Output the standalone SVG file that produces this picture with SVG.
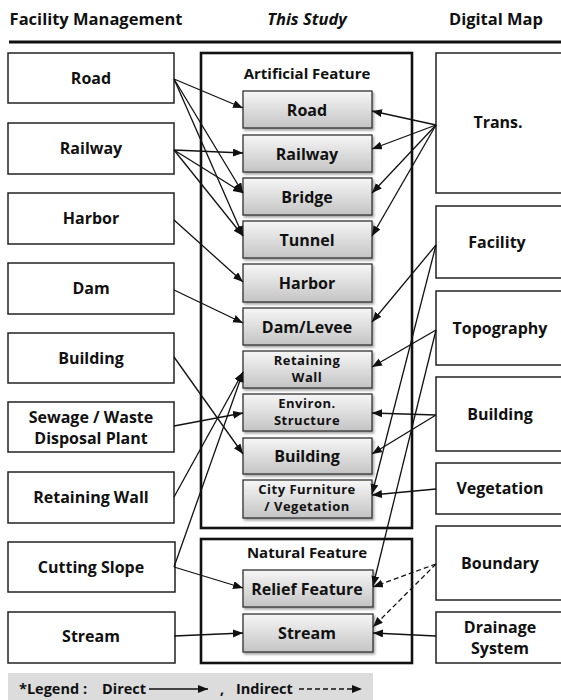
<svg xmlns="http://www.w3.org/2000/svg" width="561" height="700" viewBox="0 0 561 700">
<style>
text{font-family:"Open Sans","Noto Sans","DejaVu Sans",sans-serif;font-weight:bold;fill:#111;text-anchor:middle}
.hd{font-size:16.5px}
.gt{font-size:15px}
.lb{font-size:16px}
.ib{font-size:16px}
.ib2{font-size:13px;letter-spacing:0.5px}
.lg{font-size:14.5px;text-anchor:start}
.box{fill:#fff;stroke:#222;stroke-width:1.5}
.grp{fill:none;stroke:#111;stroke-width:2.6}
.inner{fill:url(#g);stroke:#333;stroke-width:1.3;filter:url(#sh)}
.c{fill:none;stroke:#111;stroke-width:1.3;marker-end:url(#ah)}
.d{stroke-dasharray:5,3}
</style>
<defs>
<linearGradient id="g" x1="0" y1="0" x2="0" y2="1">
<stop offset="0" stop-color="#f6f6f6"/>
<stop offset="1" stop-color="#c4c4c4"/>
</linearGradient>
<filter id="sh" x="-10%" y="-10%" width="125%" height="140%">
<feDropShadow dx="1.5" dy="2" stdDeviation="1" flood-color="#000" flood-opacity="0.35"/>
</filter>
<marker id="ah" markerUnits="userSpaceOnUse" markerWidth="11" markerHeight="9" refX="10" refY="4" orient="auto">
<path d="M0,0 L10,4 L0,8 z" fill="#111"/>
</marker>
</defs>
<g id="header">
<text class="hd" x="96" y="25">Facility Management</text>
<text class="hd" x="307" y="25" font-style="italic">This Study</text>
<text class="hd" x="496" y="25">Digital Map</text>
<line x1="9" y1="42" x2="561" y2="42" stroke="#111" stroke-width="3"/>
</g>
<g id="left">
<g id="fm-road"><rect class="box" x="8" y="53" width="166" height="50"/><text class="lb" x="91" y="84">Road</text></g>
<g id="fm-railway"><rect class="box" x="8" y="123" width="166" height="51"/><text class="lb" x="91" y="154">Railway</text></g>
<g id="fm-harbor"><rect class="box" x="8" y="193" width="166" height="51"/><text class="lb" x="91" y="224">Harbor</text></g>
<g id="fm-dam"><rect class="box" x="8" y="263" width="166" height="51"/><text class="lb" x="91" y="294">Dam</text></g>
<g id="fm-building"><rect class="box" x="8" y="333" width="166" height="50"/><text class="lb" x="91" y="364">Building</text></g>
<g id="fm-sewage"><rect class="box" x="8" y="402" width="166" height="50"/><text class="lb" x="91" y="423">Sewage / Waste</text><text class="lb" x="91" y="444">Disposal Plant</text></g>
<g id="fm-retaining"><rect class="box" x="8" y="472" width="166" height="51"/><text class="lb" x="91" y="503">Retaining Wall</text></g>
<g id="fm-cutting"><rect class="box" x="8" y="542" width="167" height="50"/><text class="lb" x="91" y="573">Cutting Slope</text></g>
<g id="fm-stream"><rect class="box" x="8" y="612" width="167" height="51"/><text class="lb" x="91" y="642">Stream</text></g>
</g>
<g id="artificial">
<rect class="grp" x="201" y="53" width="211" height="475"/>
<text class="gt" x="307" y="79">Artificial Feature</text>
</g>
<g id="natural">
<rect class="grp" x="201" y="539" width="211" height="124"/>
<text class="gt" x="307" y="558">Natural Feature</text>
</g>
<g id="st-road"><rect class="inner" x="243" y="91" width="129" height="37"/><text class="ib" x="307" y="116">Road</text></g>
<g id="st-railway"><rect class="inner" x="243" y="135" width="129" height="37"/><text class="ib" x="307" y="160">Railway</text></g>
<g id="st-bridge"><rect class="inner" x="243" y="178" width="129" height="37"/><text class="ib" x="307" y="203">Bridge</text></g>
<g id="st-tunnel"><rect class="inner" x="243" y="221" width="129" height="37"/><text class="ib" x="307" y="246">Tunnel</text></g>
<g id="st-harbor"><rect class="inner" x="243" y="264" width="129" height="38"/><text class="ib" x="307" y="289">Harbor</text></g>
<g id="st-dam"><rect class="inner" x="243" y="308" width="129" height="37"/><text class="ib" x="307" y="333">Dam/Levee</text></g>
<g id="st-retaining"><rect class="inner" x="243" y="351" width="129" height="37"/><text class="ib2" x="307" y="365">Retaining</text><text class="ib2" x="307" y="382">Wall</text></g>
<g id="st-environ"><rect class="inner" x="243" y="394" width="129" height="37"/><text class="ib2" x="307" y="408">Environ.</text><text class="ib2" x="307" y="425">Structure</text></g>
<g id="st-building"><rect class="inner" x="243" y="438" width="129" height="36"/><text class="ib" x="307" y="462">Building</text></g>
<g id="st-city"><rect class="inner" x="243" y="480" width="129" height="38"/><text class="ib2" x="307" y="494">City Furniture</text><text class="ib2" x="307" y="511">/ Vegetation</text></g>
<g id="st-relief"><rect class="inner" x="243" y="570" width="130" height="37"/><text class="ib" x="307" y="595">Relief Feature</text></g>
<g id="st-stream"><rect class="inner" x="243" y="614" width="130" height="38"/><text class="ib" x="307" y="639">Stream</text></g>
<g id="right">
<g id="dm-trans"><rect class="box" x="436" y="53" width="127" height="140"/><text class="lb" x="498" y="128">Trans.</text></g>
<g id="dm-facility"><rect class="box" x="436" y="206" width="127" height="72"/><text class="lb" x="497" y="248">Facility</text></g>
<g id="dm-topo"><rect class="box" x="436" y="291" width="127" height="74"/><text class="lb" x="500" y="334">Topography</text></g>
<g id="dm-building"><rect class="box" x="436" y="377" width="127" height="74"/><text class="lb" x="500" y="420">Building</text></g>
<g id="dm-veg"><rect class="box" x="436" y="463" width="127" height="51"/><text class="lb" x="500" y="494">Vegetation</text></g>
<g id="dm-boundary"><rect class="box" x="436" y="526" width="127" height="74"/><text class="lb" x="500" y="569">Boundary</text></g>
<g id="dm-drainage"><rect class="box" x="436" y="612" width="127" height="51"/><text class="lb" x="500" y="633">Drainage</text><text class="lb" x="500" y="654">System</text></g>
</g>
<g id="connectors">
<line class="c" x1="174" y1="79" x2="243" y2="108"/>
<line class="c" x1="174" y1="79" x2="243" y2="193"/>
<line class="c" x1="174" y1="79" x2="243" y2="236"/>
<line class="c" x1="174" y1="150" x2="243" y2="153"/>
<line class="c" x1="174" y1="150" x2="243" y2="193"/>
<line class="c" x1="174" y1="150" x2="243" y2="236"/>
<line class="c" x1="174" y1="220" x2="243" y2="282"/>
<line class="c" x1="174" y1="290" x2="243" y2="323"/>
<line class="c" x1="174" y1="357" x2="243" y2="454"/>
<line class="c" x1="174" y1="426" x2="243" y2="413"/>
<line class="c" x1="174" y1="497" x2="243" y2="372"/>
<line class="c" x1="174" y1="567" x2="243" y2="372"/>
<line class="c" x1="174" y1="567" x2="243" y2="588"/>
<line class="c" x1="174" y1="636" x2="243" y2="633"/>
<line class="c" x1="436" y1="125" x2="372" y2="111"/>
<line class="c" x1="436" y1="125" x2="372" y2="149"/>
<line class="c" x1="436" y1="125" x2="372" y2="193"/>
<line class="c" x1="436" y1="125" x2="372" y2="236"/>
<line class="c" x1="436" y1="245" x2="372" y2="322"/>
<line class="c" x1="436" y1="245" x2="372" y2="494"/>
<line class="c" x1="436" y1="330" x2="372" y2="367"/>
<line class="c" x1="436" y1="330" x2="373" y2="586"/>
<line class="c" x1="436" y1="415" x2="372" y2="413"/>
<line class="c" x1="436" y1="415" x2="372" y2="454"/>
<line class="c" x1="436" y1="489" x2="372" y2="495"/>
<line class="c d" x1="436" y1="564" x2="373" y2="587"/>
<line class="c d" x1="436" y1="564" x2="373" y2="627"/>
<line class="c" x1="436" y1="636" x2="373" y2="633"/>
</g>
<g id="legend">
<rect x="8" y="673" width="365" height="30" fill="#dcdcdc"/>
<text class="lg" x="19" y="694">*Legend :</text>
<text class="lg" x="102" y="694">Direct</text>
<line class="c" x1="149" y1="689" x2="208" y2="689"/>
<text class="lg" x="220" y="694">,</text>
<text class="lg" x="236" y="694">Indirect</text>
<line class="c d" x1="299" y1="689" x2="362" y2="689"/>
</g>
</svg>
